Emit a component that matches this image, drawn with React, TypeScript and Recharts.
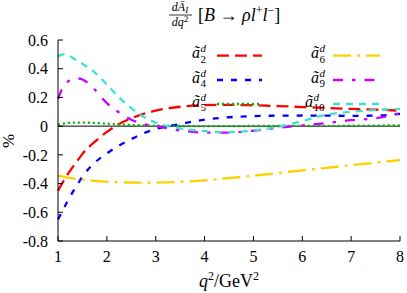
import { LineChart, Line, XAxis, YAxis, ReferenceLine } from 'recharts';

// q^2 in GeV^2
const q2 = [1, 1.1, 1.2, 1.3, 1.4, 1.5, 1.75, 2, 2.25, 2.5, 2.75, 3, 3.5, 4, 4.5, 5, 5.5, 6, 6.5, 7, 7.5, 8];

const a2 = [-0.45, -0.39, -0.335, -0.285, -0.24, -0.193, -0.11, -0.04, 0.015, 0.055, 0.085, 0.108, 0.135, 0.146, 0.148, 0.145, 0.14, 0.133, 0.126, 0.12, 0.115, 0.108];
const a4 = [-0.65, -0.585, -0.52, -0.46, -0.405, -0.352, -0.255, -0.19, -0.135, -0.09, -0.05, -0.02, 0.015, 0.045, 0.062, 0.07, 0.073, 0.074, 0.073, 0.072, 0.073, 0.085];
const a5 = [0.01, 0.017, 0.022, 0.024, 0.025, 0.025, 0.022, 0.017, 0.012, 0.008, 0.005, 0.003, 0.001, 0.0, 0.0, 0.001, 0.001, 0.002, 0.002, 0.003, 0.004, 0.005];
const a6 = [-0.345, -0.352, -0.358, -0.364, -0.369, -0.373, -0.381, -0.387, -0.391, -0.393, -0.394, -0.393, -0.388, -0.378, -0.362, -0.345, -0.327, -0.308, -0.29, -0.272, -0.254, -0.237];
const a9 = [0.19, 0.27, 0.31, 0.328, 0.332, 0.325, 0.255, 0.16, 0.095, 0.045, 0.015, 0.0, -0.03, -0.045, -0.045, -0.032, -0.012, 0.005, 0.022, 0.042, 0.055, 0.09];
const a10 = [0.485, 0.5, 0.495, 0.475, 0.455, 0.435, 0.375, 0.29, 0.2, 0.125, 0.065, 0.025, -0.015, -0.035, -0.042, -0.03, -0.005, 0.035, 0.08, 0.1, 0.112, 0.12];

const xTicks = [1, 2, 3, 4, 5, 6, 7, 8];
const yTicks = [-0.8, -0.6, -0.4, -0.2, 0, 0.2, 0.4, 0.6];

const rows = q2.map((x, i) => ({ q2: x, a2: a2[i], a4: a4[i], a5: a5[i], a6: a6[i], a9: a9[i], a10: a10[i] }));

const series = [
  { key: 'a2', sub: '2', color: '#ff0000', dash: '12 6', col: 0, row: 0 },
  { key: 'a4', sub: '4', color: '#0000ff', dash: '6 8', col: 0, row: 1 },
  { key: 'a5', sub: '5', color: '#00b400', dash: '2 3', col: 0, row: 2 },
  { key: 'a6', sub: '6', color: '#ffd000', dash: '18 6 3 6', col: 1, row: 0 },
  { key: 'a9', sub: '9', color: '#c800ff', dash: '10 9 3.5 9', col: 1, row: 1 },
  { key: 'a10', sub: '10', color: '#40e0d0', dash: '7 6', col: 1, row: 2 },
];

const FONT = "'Liberation Serif', 'Times New Roman', serif";
const W = 407;
const H = 293;

const serif = { fontFamily: FONT };
const ital = { fontFamily: FONT, fontStyle: 'italic' };

// legend layout
const rowY = [55.7, 80, 104];
const labelRight = [207, 326];
const sampleX = [[217, 262], [333, 380]];

function LegendEntry({ s }: { s: typeof series[number] }) {
  const y = rowY[s.row];
  const subW = s.sub.length * 6;
  const x = labelRight[s.col] - 9 - subW;
  const [x1, x2] = sampleX[s.col];
  return (
    <g>
      <text x={x} y={y + 2.5} fontSize={16} style={ital}>ã</text>
      <text x={x + 8.5} y={y - 3.5} fontSize={11} style={ital}>d</text>
      <text x={x + 8.5} y={y + 7} fontSize={11} style={serif}>{s.sub}</text>
      <line x1={x1} x2={x2} y1={y} y2={y} stroke={s.color} strokeWidth={2.3} strokeDasharray={s.dash} />
    </g>
  );
}

export default function App() {
  const tickStyle = { fontSize: 16, fill: '#000', style: serif };
  return (
    <div style={{ position: 'absolute', left: 0, top: 0, width: W, height: H, background: '#fff', fontFamily: FONT }}>
      <LineChart width={W} height={H} data={rows} margin={{ top: 40, right: 7, bottom: 0, left: 0 }} style={serif}>
        <XAxis dataKey="q2" type="number" domain={[1, 8]} ticks={xTicks} height={52}
          axisLine={{ stroke: '#000' }} tickLine={{ stroke: '#000' }} tickSize={-5} tickMargin={15} tick={tickStyle} />
        <XAxis xAxisId="top" orientation="top" dataKey="q2" type="number" domain={[1, 8]} ticks={xTicks} height={0}
          axisLine={{ stroke: '#000' }} tickLine={{ stroke: '#000' }} tickSize={-5} tick={false} />
        <YAxis type="number" domain={[-0.8, 0.6]} ticks={yTicks} width={58} allowDataOverflow
          tickFormatter={(v: number) => (v === 0 ? '0' : v.toFixed(1))}
          axisLine={{ stroke: '#000' }} tickLine={{ stroke: '#000' }} tickSize={-5} tickMargin={15} tick={tickStyle} />
        <YAxis yAxisId="right" orientation="right" type="number" domain={[-0.8, 0.6]} ticks={yTicks} width={0}
          axisLine={{ stroke: '#000' }} tickLine={{ stroke: '#000' }} tickSize={-5} tick={false} />
        <ReferenceLine y={0} stroke="#000" strokeWidth={1} />
        {series.map(s => (
          <Line key={s.key} dataKey={s.key} type="monotone" stroke={s.color} strokeWidth={2.3}
            strokeDasharray={s.dash} dot={false} activeDot={false} isAnimationActive={false} />
        ))}
      </LineChart>
      <svg width={W} height={H} style={{ position: 'absolute', left: 0, top: 0, pointerEvents: 'none', fontFamily: FONT }}>
        {/* title */}
        <text x={180} y={11} fontSize={12} style={ital} textAnchor="middle">
          dĀ<tspan fontSize={9} dy={2}>I</tspan>
        </text>
        <line x1={169} x2={192} y1={15} y2={15} stroke="#000" strokeWidth={0.8} />
        <text x={180} y={25.5} fontSize={12} style={ital} textAnchor="middle">
          dq<tspan fontSize={9} fontStyle="normal" dy={-4}>2</tspan>
        </text>
        <text x={198} y={21} fontSize={18} style={serif}>
          [<tspan fontStyle="italic">B</tspan> → <tspan fontStyle="italic">ρl</tspan><tspan fontSize={12} dy={-7}>+</tspan><tspan fontStyle="italic" dy={7}>l</tspan><tspan fontSize={12} dy={-7}>−</tspan><tspan dy={7}>]</tspan>
        </text>
        {/* axis labels */}
        <text x={229} y={287} fontSize={18} style={serif} textAnchor="middle">
          <tspan fontStyle="italic">q</tspan><tspan fontSize={12} dy={-7}>2</tspan><tspan dy={7}>/GeV</tspan><tspan fontSize={12} dy={-7}>2</tspan>
        </text>
        <text x={0} y={0} fontSize={17} style={serif} textAnchor="middle" transform="translate(14,141) rotate(-90)">%</text>
        {series.map(s => <LegendEntry key={s.key} s={s} />)}
      </svg>
    </div>
  );
}
